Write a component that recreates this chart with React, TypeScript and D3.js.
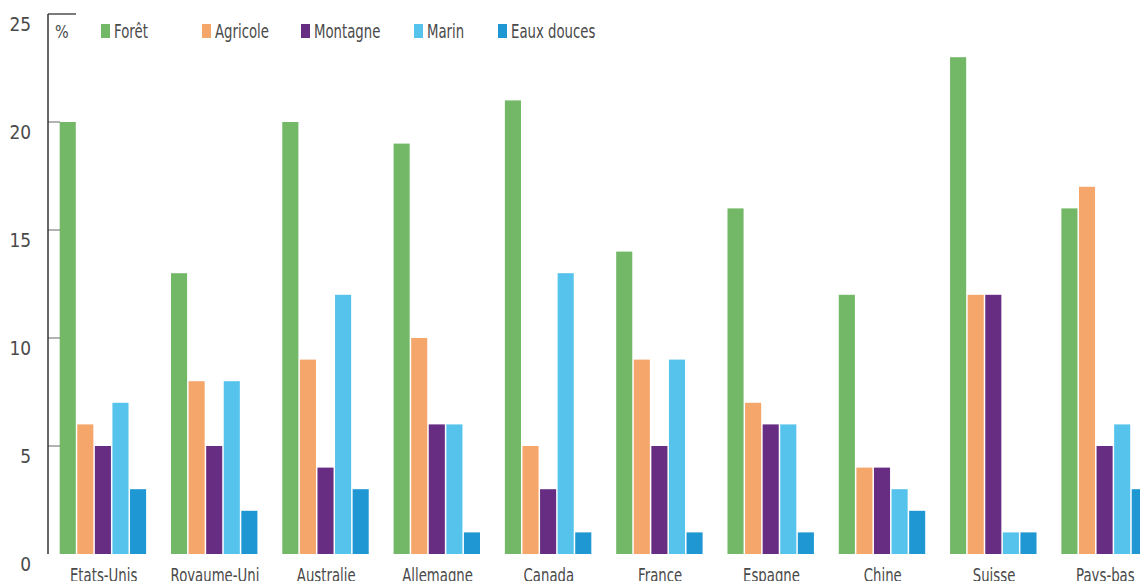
import React from "react";
import * as d3 from "d3";

const countries = ["Etats-Unis", "Royaume-Uni", "Australie", "Allemagne", "Canada", "France", "Espagne", "Chine", "Suisse", "Pays-bas"];
const seriesNames = ["Forêt", "Agricole", "Montagne", "Marin", "Eaux douces"];
const seriesColors = ["#72b866", "#f5a66b", "#662d82", "#55c3eb", "#1f97d3"];
const foret = [20, 13, 20, 19, 21, 14, 16, 12, 23, 16];
const agricole = [6, 8, 9, 10, 5, 9, 7, 4, 12, 17];
const montagne = [5, 5, 4, 6, 3, 5, 6, 4, 12, 5];
const marin = [7, 8, 12, 6, 13, 9, 6, 3, 1, 6];
const eauxDouces = [3, 2, 3, 1, 1, 1, 1, 2, 1, 3];
const yTicks = [0, 5, 10, 15, 20, 25];
const legendX = [101, 202, 301, 414, 498];

const seriesValues = [foret, agricole, montagne, marin, eauxDouces];
const FONT = "'DejaVu Sans', sans-serif";
const SX = 0.7;

export default function App() {
  const W = 1140, H = 581;
  const x0 = d3.scaleBand<string>().domain(countries).range([48, 1161]).paddingInner(0.21).paddingOuter(0.105);
  const x1 = d3.scaleBand<string>().domain(seriesNames).range([0, x0.bandwidth()]).padding(0);
  const y = d3.scaleLinear().domain([0, 25]).range([554, 14]);
  const textColor = "#4a4a4a";

  return (
    <svg width={W} height={H} style={{ position: "absolute", left: 0, top: 0, overflow: "hidden" }} fontFamily={FONT}>
      {countries.map((c, i) => (
        <g key={c} transform={`translate(${x0(c)},0)`}>
          {seriesNames.map((s, j) => (
            <rect key={s} x={(x1(s) as number)} y={y(seriesValues[j][i])} width={x1.bandwidth() - 1.5} height={y(0) - y(seriesValues[j][i])} fill={seriesColors[j]} />
          ))}
          <text transform={`translate(${x0.bandwidth() / 2},582) scale(${SX},1)`} textAnchor="middle" fontSize={19} fill={textColor}>{c}</text>
        </g>
      ))}
      {yTicks.map((t) => (
        <g key={t}>
          {t > 0 && t < 25 && <line x1={48} x2={60} y1={y(t)} y2={y(t)} stroke="#666" strokeWidth={1} />}
          <text transform={`translate(31,${y(t) + 17}) scale(0.85,1)`} textAnchor="end" fontSize={20} fill={textColor}>{t}</text>
        </g>
      ))}
      <line x1={48} x2={76} y1={y(25)} y2={y(25)} stroke="#333" strokeWidth={1.3} />
      <line x1={48} x2={48} y1={y(25)} y2={y(0)} stroke="#333" strokeWidth={1.5} />
      <text transform={`translate(55,38) scale(0.8,1)`} fontSize={18} fill={textColor}>%</text>
      {seriesNames.map((s, j) => (
        <g key={s}>
          <rect x={legendX[j]} y={24} width={9} height={14} fill={seriesColors[j]} />
          <text transform={`translate(${legendX[j] + 13},38) scale(${SX},1)`} fontSize={19} fill={textColor}>{s}</text>
        </g>
      ))}
    </svg>
  );
}
